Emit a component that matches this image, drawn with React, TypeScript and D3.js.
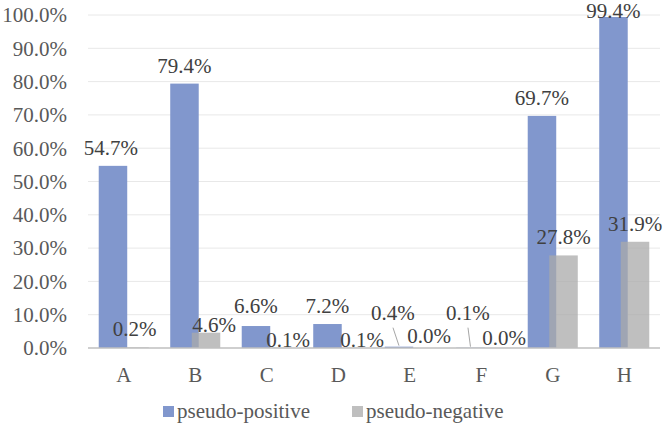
import React, { useRef, useEffect } from "react";
import * as d3 from "d3";

const categories = ["A", "B", "C", "D", "E", "F", "G", "H"];
const pseudoPositive = [54.7, 79.4, 6.6, 7.2, 0.4, 0.1, 69.7, 99.4];
const pseudoNegative = [0.2, 4.6, 0.1, 0.1, 0.0, 0.0, 27.8, 31.9];
const seriesNames = ["pseudo-positive", "pseudo-negative"];
const yTicks = [0, 10, 20, 30, 40, 50, 60, 70, 80, 90, 100];

// hand nudges for the data labels [dx, dy], so the small ones don't collide
const posNudge = [[-2, 0], [0, 0], [0, -2], [0, 0], [-6, -16], [-2.5, -17], [0, 0], [0, 12]];
const negNudge = [[0, 0], [8, 10], [10.5, 10], [13, 10], [8.5, 6], [12, 8], [0, 0], [0, 0]];
// labels that get a leader line back to their bar
const posLeader = [false, false, false, false, true, true, false, false];

const width = 667;
const height = 425;
const margin = { top: 15, right: 7, bottom: 77, left: 88 };
const blue = "#8197cd";
const grey = "#aaaaaa";
const font = "Liberation Serif, Times New Roman, DejaVu Serif, serif";

export default function App() {
    const svgRef = useRef<SVGSVGElement>(null);

    useEffect(() => {
        const svg = d3.select(svgRef.current);
        svg.selectAll("*").remove();

        const x = d3.scaleBand()
            .domain(categories)
            .range([margin.left, width - margin.right])
            .paddingInner(0.3)
            .paddingOuter(0.15);

        const y = d3.scaleLinear()
            .domain([0, 100])
            .range([height - margin.bottom, margin.top]);

        const barW = 28.5;
        const negOffset = x.bandwidth() - barW;

        // gridlines
        svg.append("g")
            .selectAll("line")
            .data(yTicks.slice(1))
            .join("line")
            .attr("x1", margin.left)
            .attr("x2", width - margin.right)
            .attr("y1", d => y(d))
            .attr("y2", d => y(d))
            .attr("stroke", "#e8e8e8")
            .attr("stroke-width", 1);

        // y tick labels
        svg.append("g")
            .selectAll("text")
            .data(yTicks)
            .join("text")
            .attr("x", 67)
            .attr("y", d => y(d))
            .attr("dy", "0.35em")
            .attr("text-anchor", "end")
            .style("font-family", font)
            .style("font-size", "21px")
            .attr("fill", "#595959")
            .text(d => d3.format(".1f")(d) + "%");

        // bars
        svg.append("g")
            .selectAll("rect")
            .data(pseudoPositive)
            .join("rect")
            .attr("x", (d, i) => x(categories[i])!)
            .attr("y", d => y(d))
            .attr("width", barW)
            .attr("height", d => y(0) - y(d))
            .attr("fill", blue);

        svg.append("g")
            .selectAll("rect")
            .data(pseudoNegative)
            .join("rect")
            .attr("x", (d, i) => x(categories[i])! + negOffset)
            .attr("y", d => y(d))
            .attr("width", barW)
            .attr("height", d => y(0) - y(d))
            .attr("fill", grey)
            .attr("fill-opacity", 0.75);

        // baseline
        svg.append("line")
            .attr("x1", margin.left)
            .attr("x2", width - margin.right)
            .attr("y1", y(0))
            .attr("y2", y(0))
            .attr("stroke", "#bfbfbf")
            .attr("stroke-width", 1.5);

        // category labels
        svg.append("g")
            .selectAll("text")
            .data(categories)
            .join("text")
            .attr("x", d => x(d)! + x.bandwidth() / 2)
            .attr("y", 382)
            .attr("text-anchor", "middle")
            .style("font-family", font)
            .style("font-size", "21px")
            .attr("fill", "#595959")
            .text(d => d);

        // leader lines from the lifted labels down to their bars
        const leaders = categories.map((c, i) => i).filter(i => posLeader[i]);
        svg.append("g")
            .selectAll("line")
            .data(leaders)
            .join("line")
            .attr("x1", i => x(categories[i])! + barW / 2 + posNudge[i][0])
            .attr("y1", i => y(pseudoPositive[i]) - 11 + posNudge[i][1] + 8)
            .attr("x2", i => x(categories[i])! + barW / 2)
            .attr("y2", i => y(pseudoPositive[i]) - 1)
            .attr("stroke", "#a6a6a6")
            .attr("stroke-width", 1);

        // data labels
        const label = (sel: any) => sel
            .attr("text-anchor", "middle")
            .style("font-family", font)
            .style("font-size", "21px")
            .attr("fill", "#404040")
            .text((d: number) => d3.format(".1f")(d) + "%");

        svg.append("g")
            .selectAll("text")
            .data(pseudoPositive)
            .join("text")
            .attr("x", (d, i) => x(categories[i])! + barW / 2 + posNudge[i][0])
            .attr("y", (d, i) => y(d) - 11 + posNudge[i][1])
            .call(label);

        svg.append("g")
            .selectAll("text")
            .data(pseudoNegative)
            .join("text")
            .attr("x", (d, i) => x(categories[i])! + negOffset + barW / 2 + negNudge[i][0])
            .attr("y", (d, i) => y(d) - 11 + negNudge[i][1])
            .call(label);

        // legend
        const legend = svg.append("g")
            .selectAll("g")
            .data(seriesNames)
            .join("g")
            .attr("transform", (d, i) => `translate(${i === 0 ? 163 : 352},0)`);

        legend.append("rect")
            .attr("x", 0)
            .attr("y", 406)
            .attr("width", 11)
            .attr("height", 11)
            .attr("fill", (d, i) => i === 0 ? blue : "#bfbfbf");

        legend.append("text")
            .attr("x", 14)
            .attr("y", 418)
            .style("font-family", font)
            .style("font-size", "21px")
            .attr("fill", "#595959")
            .text(d => d);
    }, []);

    return (
        <svg
            ref={svgRef}
            width={width}
            height={height}
            style={{ position: "absolute", left: 0, top: 0, background: "#fff" }}
        />
    );
}
